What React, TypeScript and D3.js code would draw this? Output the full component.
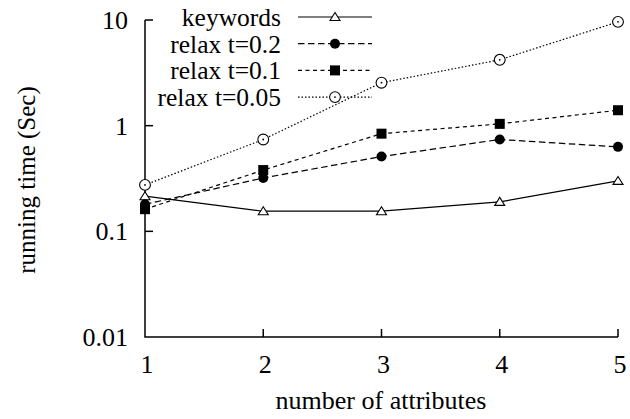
import React from "react";
import * as d3 from "d3";

const attributes = [1, 2, 3, 4, 5];
const keywordsTimes = [0.215, 0.155, 0.155, 0.19, 0.3];
const relax02Times = [0.18, 0.32, 0.51, 0.74, 0.63];
const relax01Times = [0.162, 0.38, 0.84, 1.04, 1.4];
const relax005Times = [0.275, 0.74, 2.55, 4.2, 9.6];
const yTicks = [0.01, 0.1, 1, 10];
const yTickLabels = ["0.01", "0.1", "1", "10"];
const seriesNames = ["keywords", "relax t=0.2", "relax t=0.1", "relax t=0.05"];

type Marker = "triangle" | "dot" | "square" | "ring";

const series: { name: string; values: number[]; dash: string; marker: Marker }[] = [
  { name: seriesNames[0], values: keywordsTimes, dash: "none", marker: "triangle" },
  { name: seriesNames[1], values: relax02Times, dash: "6.5,3.5", marker: "dot" },
  { name: seriesNames[2], values: relax01Times, dash: "4,3.5", marker: "square" },
  { name: seriesNames[3], values: relax005Times, dash: "1.5,2", marker: "ring" },
];

const W = 630;
const H = 419;
const left = 145;
const right = 618;
const top = 20;
const bottom = 337;
const textStyle = { fontFamily: "Liberation Serif", fontSize: 26 };
const legendStyle = { fontFamily: "Liberation Serif", fontSize: 25.5 };
const vTextStyle = { fontFamily: "Liberation Serif", fontSize: 25 };

function MarkerShape({ kind, x, y }: { kind: Marker; x: number; y: number }) {
  if (kind === "triangle") {
    const p = `${x},${y - 4.5} ${x - 5},${y + 3.5} ${x + 5},${y + 3.5}`;
    return <polygon points={p} fill="white" stroke="black" strokeWidth={1.1} />;
  }
  if (kind === "dot") return <circle cx={x} cy={y} r={5} fill="black" />;
  if (kind === "square")
    return <rect x={x - 5} y={y - 5} width={10} height={10} fill="black" />;
  return (
    <g>
      <circle cx={x} cy={y} r={5.4} fill="white" stroke="black" strokeWidth={1.1} />
      <circle cx={x} cy={y} r={0.9} fill="black" />
    </g>
  );
}

export default function App() {
  const x = d3.scaleLinear().domain([1, 5]).range([left, right]);
  const y = d3.scaleLog().domain([0.01, 10]).range([bottom, top]);
  const line = d3
    .line<number>()
    .x((_, i) => x(attributes[i]))
    .y((v) => y(v));

  const legendTextX = 281;
  const legendLineX0 = 298;
  const legendLineX1 = 372;
  const legendRow = (i: number) => 17 + i * 26.7;

  return (
    <svg width={W} height={H} style={{ position: "absolute", left: 0, top: 0 }}>
      <rect width={W} height={H} fill="white" />
      {/* axes */}
      <path
        d={`M${left},${top} V${bottom} H${right}`}
        fill="none"
        stroke="black"
        strokeWidth={1.5}
      />
      {yTicks.map((t, i) => (
        <g key={"yt" + i}>
          {t !== 0.01 && (
            <line x1={left} x2={left + 8} y1={y(t)} y2={y(t)} stroke="black" strokeWidth={1.5} />
          )}
          <text x={128} y={y(t)} dy="0.35em" textAnchor="end" style={textStyle}>
            {yTickLabels[i]}
          </text>
        </g>
      ))}
      {attributes.map((a) => (
        <g key={"xt" + a}>
          {a !== 1 && (
            <line x1={x(a)} x2={x(a)} y1={bottom} y2={bottom - 8} stroke="black" strokeWidth={1.5} />
          )}
          <text x={x(a) + 2} y={373} textAnchor="middle" style={textStyle}>
            {a}
          </text>
        </g>
      ))}
      <text x={381} y={409} textAnchor="middle" style={textStyle}>
        number of attributes
      </text>
      <text transform={`translate(35,180) rotate(-90)`} textAnchor="middle" style={vTextStyle}>
        running time (Sec)
      </text>

      {/* data lines */}
      {series.map((s) => (
        <path
          key={"l" + s.name}
          d={line(s.values) || ""}
          fill="none"
          stroke="black"
          strokeWidth={1.2}
          strokeDasharray={s.dash}
        />
      ))}
      {series.map((s) =>
        s.values.map((v, i) => (
          <MarkerShape key={s.name + i} kind={s.marker} x={x(attributes[i])} y={y(v)} />
        ))
      )}

      {/* legend */}
      {series.map((s, i) => (
        <g key={"lg" + s.name}>
          <text x={legendTextX} y={legendRow(i)} dy="0.35em" textAnchor="end" style={legendStyle}>
            {s.name}
          </text>
          <line
            x1={legendLineX0}
            x2={legendLineX1}
            y1={legendRow(i)}
            y2={legendRow(i)}
            stroke="black"
            strokeWidth={1.2}
            strokeDasharray={s.dash}
          />
          <MarkerShape kind={s.marker} x={335} y={legendRow(i)} />
        </g>
      ))}
    </svg>
  );
}
